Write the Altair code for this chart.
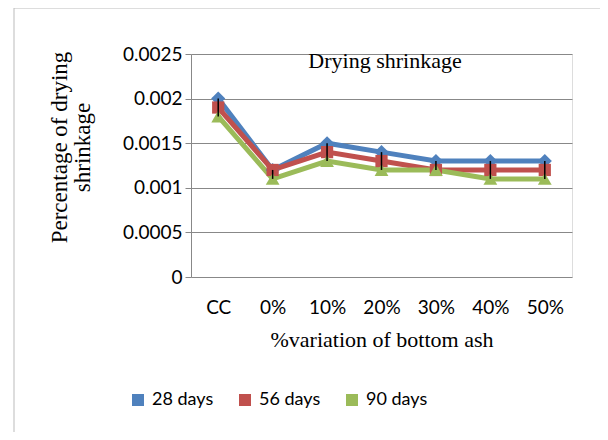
import altair as alt
import pandas as pd

categories = ["CC", "0%", "10%", "20%", "30%", "40%", "50%"]
series_names = ["28 days", "56 days", "90 days"]
days28 = [0.0020, 0.0012, 0.0015, 0.0014, 0.0013, 0.0013, 0.0013]
days56 = [0.0019, 0.0012, 0.0014, 0.0013, 0.0012, 0.0012, 0.0012]
days90 = [0.0018, 0.0011, 0.0013, 0.0012, 0.0012, 0.0011, 0.0011]
err_lo = [0.0018, 0.0011, 0.0013, 0.0012, 0.0012, 0.0011, 0.0011]
err_hi = [0.0020, 0.0012, 0.0015, 0.0014, 0.0013, 0.0013, 0.0013]
colors = ["#4F81BD", "#C0504D", "#9BBB59"]
shapes = ["diamond", "square", "triangle-up"]
sizes = [200, 150, 190]

rows = []
for name, vals in zip(series_names, [days28, days56, days90]):
    for c, v in zip(categories, vals):
        rows.append({"cat": c, "series": name, "value": v})
df = pd.DataFrame(rows)
err_df = pd.DataFrame({"cat": categories, "lo": err_lo, "hi": err_hi})

SERIF = "Liberation Serif"
SANS = "Lato"

xenc = alt.X("cat:N", sort=categories,
             scale=alt.Scale(type="point", padding=0.5),
             axis=alt.Axis(title="%variation of bottom ash", labelAngle=0,
                           ticks=False, domain=False, grid=False,
                           labelFont=SANS, labelFontSize=19, labelColor="#000",
                           labelPadding=21, titleFont=SERIF, titleFontSize=22,
                           titleFontWeight="normal", titleColor="#000",
                           titlePadding=12))
yenc = alt.Y("value:Q",
             scale=alt.Scale(domain=[0, 0.0025], nice=False),
             axis=alt.Axis(title=["Percentage of drying", "shrinkage"],
                           values=[0, 0.0005, 0.001, 0.0015, 0.002, 0.0025],
                           format="~g", labelFont=SANS, labelFontSize=19,
                           labelColor="#000", tickColor="#888", tickSize=6,
                           domainColor="#888", gridColor="#888",
                           labelPadding=3, titleFont=SERIF, titleFontSize=23,
                           titleFontWeight="normal", titleColor="#000",
                           titleLineHeight=23,
                           titleAngle=-90, titleX=-132, titleY=93,
                           titleAlign="center", titleBaseline="middle"))

cscale = alt.Scale(domain=series_names, range=colors)
legend = alt.Legend(title=None, orient="none", direction="horizontal",
                    legendX=-62, legendY=337,
                    symbolType="square", symbolSize=144,
                    symbolStrokeWidth=0, symbolOpacity=1,
                    labelFont=SANS,
                    labelFontSize=18, labelColor="#000",
                    labelOffset=5, columnPadding=22, padding=0)

base = alt.Chart(df)
legend_layer = base.mark_square(size=0, opacity=1, filled=True).encode(
    x=xenc, y=yenc, color=alt.Color("series:N", sort=series_names, scale=cscale, legend=legend))
lines = base.mark_line(strokeWidth=5).encode(
    x=xenc, y=yenc, color=alt.Color("series:N", sort=series_names, scale=cscale, legend=None))

point_layers = []
for name, shp, col, sz in zip(series_names, shapes, colors, sizes):
    point_layers.append(
        base.transform_filter(alt.datum.series == name)
        .mark_point(filled=True, shape=shp, color=col, size=sz, opacity=1)
        .encode(x=xenc, y=yenc)
    )

errs = alt.Chart(err_df).mark_rule(color="#000", strokeWidth=1.5).encode(
    x=alt.X("cat:N", sort=categories), y="lo:Q", y2="hi:Q")

title = alt.Chart(pd.DataFrame({"t": ["Drying shrinkage"]})).mark_text(
    font=SERIF, fontSize=22, color="#000", align="center", baseline="middle"
).encode(x=alt.value(194), y=alt.value(7), text="t:N")

frame_v = alt.Chart(pd.DataFrame({"a": [0]})).mark_rule(color="#bbb", strokeWidth=1).encode(
    x=alt.value(-177), y=alt.value(-46), y2=alt.value(400))
frame_h = alt.Chart(pd.DataFrame({"a": [0]})).mark_rule(color="#bbb", strokeWidth=1).encode(
    x=alt.value(-177), x2=alt.value(420), y=alt.value(-46))

chart = alt.layer(frame_v, frame_h, legend_layer, lines, *point_layers, errs, title).properties(
    width=381, height=223,
    autosize=alt.AutoSizeParams(type="none"),
    padding={"left": 183, "top": 46, "right": 28, "bottom": 155},
).configure_view(stroke=None).configure(background="white")

chart.save("out.html", embed_options={"renderer": "svg", "actions": False})
